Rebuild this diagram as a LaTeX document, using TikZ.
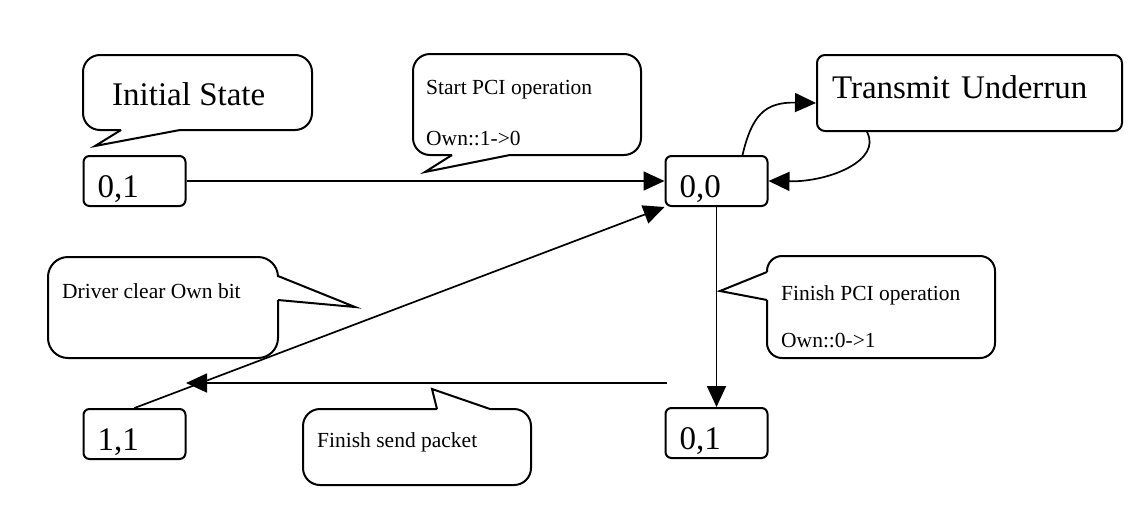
\documentclass[tikz,border=0pt]{standalone}
\usepackage{fontspec}
\setmainfont{Liberation Serif}
\usetikzlibrary{arrows.meta,calc}
\tikzset{
  statebox/.style={draw, line width=2pt, rounded corners=6pt, minimum width=102pt, minimum height=50pt,
    inner xsep=14pt, inner ysep=0pt, text width=74pt, align=left,
    font=\fontsize{33}{36}\selectfont, text height=32pt, text depth=0pt},
  conn/.style={line width=1.7pt, -{Triangle[length=21pt,width=19pt]}},
  bubble/.style={line width=2pt, rounded corners=17pt},
  tailline/.style={line width=2pt, line join=miter},
  bigtxt/.style={font=\fontsize{33}{36}\selectfont, inner sep=0pt, anchor=base west},
  smalltxt/.style={font=\fontsize{21.5}{24}\selectfont, inner sep=0pt, anchor=base west},
}
\begin{document}
\begin{tikzpicture}[x=1pt,y=-1pt]
\useasboundingbox (0,0) rectangle (1145,509);
% states
\node[statebox] (init) at (134.5,181) {0,1};
\node[statebox] (s00) at (716.5,181) {0,0};
\node[statebox] (s11) at (134.5,434) {1,1};
\node[statebox] (s01b) at (716.5,433) {0,1};
\node[statebox, rounded corners=8pt, minimum width=305pt, minimum height=76pt, text width=275pt,
      inner xsep=15pt, text height=25pt, text depth=15pt] (tu) at (969.5,93) {Transmit Underrun};
% connectors
\draw[conn] (init.east) -- (s00.west);
\draw[conn] ($(s00.north)+(26,0)$) .. controls (752,115) and (765,102) .. ($(tu.west)+(0,10)$);
\draw[conn] ($(tu.south west)+(51,0)$) .. controls (882,160) and (830,182) .. (s00.east);
\draw[conn] (s00.south) -- (s01b.north);
\coordinate (fsp) at (667,383);
\coordinate (fspend) at (186,383);
\draw[conn] (fsp) -- (fspend);
\draw[conn] (s11.north) -- (s00.south west);
% callouts
\draw[bubble] (180,130) -- (312,130) -- (312,55) -- (83,55) -- (83,130) -- (121,130);
\draw[tailline] (121,130) -- (95,146) -- (180,130);
\draw[bubble] (510,155) -- (641,155) -- (641,54) -- (413,54) -- (413,155) -- (452,155);
\draw[tailline] (452,155) -- (425,172) -- (510,155);
\draw[bubble, rounded corners=15pt] (767,272) -- (767,256) -- (995,256) -- (995,358) -- (767,358) -- (767,300);
\draw[tailline] (767,272) -- (720,291) -- (767,300);
\draw[bubble, rounded corners=20pt] (278,276) -- (278,257) -- (48,257) -- (48,358) -- (278,358) -- (278,300);
\draw[tailline] (278,276) -- (355,307) -- (278,300);
\draw[bubble] (490,409) -- (531,409) -- (531,485) -- (303,485) -- (303,409) -- (437,409);
\draw[tailline] (437,409) -- (432,389) -- (490,409);
% texts
\node[bigtxt] (tinit) at (112,105) {Initial State};
\node[smalltxt] (tstart) at (426,94) {Start PCI operation};
\node[smalltxt] (town1) at (426,145) {Own::1->0};
\node[smalltxt] (tfin) at (781,300) {Finish PCI operation};
\node[smalltxt] (town2) at (781,347) {Own::0->1};
\node[smalltxt] (tdrv) at (62,298) {Driver clear Own bit};
\node[smalltxt] (tsend) at (317,447) {Finish send packet};
\end{tikzpicture}
\end{document}
